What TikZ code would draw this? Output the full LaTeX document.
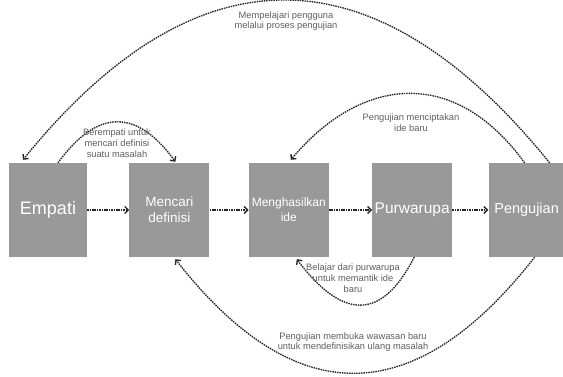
\documentclass[tikz,border=0pt]{standalone}
\usepackage{fontspec}
\setmainfont{Liberation Sans}
\usetikzlibrary{positioning, arrows.meta}
\definecolor{boxgray}{HTML}{999999}
\definecolor{linegray}{HTML}{262626}
\definecolor{notegray}{HTML}{5E5E5E}
\tikzset{
  box/.style={rectangle, fill=boxgray, minimum width=80pt,
              minimum height=94pt, inner sep=1pt, text=white,
              align=center, font=\fontsize{13.5}{16}\selectfont},
  arr/.style={-{Straight Barb[length=3.5pt, width=7pt]}, line width=1.35pt,
              color=linegray, dash pattern=on 1.5pt off 0.9pt},
  note/.style={align=center, text=notegray,
               font=\fontsize{9.3}{10.8}\selectfont},
}
\begin{document}
\begin{tikzpicture}[x=1pt, y=1pt]
  \useasboundingbox (0,0) rectangle (563,376);
  % the five stages
  \node[box, minimum width=78pt, font=\fontsize{18}{20}\selectfont] (emp)
        at (48,166) {Empati};
  \node[box, right=42pt of emp] (def) {Mencari\\definisi};
  \node[box, right=39pt of def, font=\fontsize{12}{15}\selectfont] (ide)
        {Menghasilkan\\ide};
  \node[box, right=43pt of ide, font=\fontsize{15.5}{18}\selectfont] (pro)
        {Purwarupa};
  \node[box, right=36pt of pro, minimum width=76pt,
        font=\fontsize{14.5}{17}\selectfont] (tes) {Pengujian};
  \draw[arr] (emp)--(def); \draw[arr] (def)--(ide);
  \draw[arr] (ide)--(pro); \draw[arr] (pro)--(tes);
  % loops back
  \draw[arr] ([xshift=23pt]tes.north) to[out=129, in=51,
        out distance=278pt, in distance=275pt] ([xshift=-25pt, yshift=3pt]emp.north);
  \draw[arr] ([xshift=10pt]emp.north) to[out=54, in=126,
        out distance=67pt, in distance=66pt] ([xshift=6pt, yshift=1pt]def.north);
  \draw[arr] ([xshift=-2pt]tes.north) to[out=126, in=50,
        out distance=121pt, in distance=108pt] ([xshift=2pt, yshift=3pt]ide.north);
  \draw[arr] ([xshift=2pt]pro.south) to[out=243, in=307,
        out distance=71pt, in distance=77pt] ([xshift=8pt, yshift=-2pt]ide.south);
  \draw[arr] ([xshift=8pt]tes.south) to[out=232, in=308,
        out distance=194pt, in distance=195pt] ([xshift=6pt, yshift=-2pt]def.south);
  % loop texts
  \node[note] (learn) at (286,355) {Mempelajari pengguna\\melalui proses pengujian};
  \node[note] (feel) at (117,233) {Berempati untuk\\mencari definisi\\suatu masalah};
  \node[note] (newidea) at (411,253) {Pengujian menciptakan\\ide baru};
  \node[note] (spark) at (353,98) {Belajar dari purwarupa\\untuk memantik ide\\baru};
  \node[note] (insight) at (353,34) {Pengujian membuka wawasan baru\\untuk mendefinisikan ulang masalah};
\end{tikzpicture}
\end{document}
